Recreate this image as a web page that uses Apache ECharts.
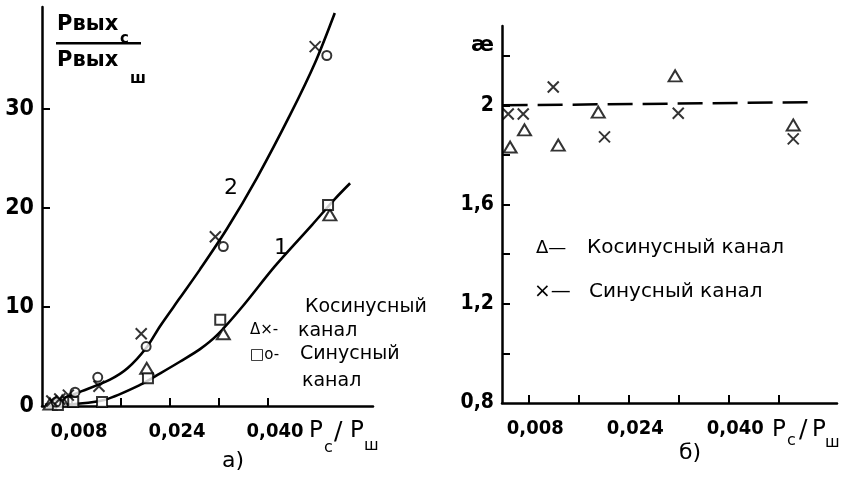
<!DOCTYPE html>
<html><head><meta charset="utf-8">
<script src="https://cdn.jsdelivr.net/npm/echarts@6/dist/echarts.min.js"></script>
<style>html,body{margin:0;background:#fff}#c{width:844px;height:480px}</style>
</head><body><div id="c"></div>
<script>
// ---------- panel a) ----------
const curve1 = [[0.0036,0],[0.0085,0.2],[0.0134,0.64],[0.0191,2.13],[0.0224,3.3],[0.0256,4.47],[0.0289,5.74],[0.0318,7.23],[0.0359,10.1],[0.0411,14.1],[0.0472,18.3],[0.0509,20.9],[0.0534,22.5]];
const curve2 = [[0.0036,0.1],[0.0096,1.5],[0.0142,2.66],[0.0171,3.83],[0.0201,5.85],[0.0224,8.09],[0.0256,10.9],[0.0289,13.8],[0.0333,17.9],[0.0382,23.05],[0.0436,29.4],[0.0477,34.7],[0.0509,39.7]];
const aTriangles = [[0.0044,0.2],[0.0064,0.5],[0.0202,3.8],[0.0327,7.3],[0.0501,19.3]];
const aCrosses   = [[0.0047,0.5],[0.0060,0.7],[0.0074,1.1],[0.0124,2.0],[0.0193,7.3],[0.0314,17.1],[0.0477,36.3]];
const aSquares   = [[0.0057,0.1],[0.0082,0.4],[0.0129,0.4],[0.0204,2.8],[0.0322,8.7],[0.0498,20.3]];
const aCircles   = [[0.0054,0.4],[0.0085,1.4],[0.0122,2.9],[0.0201,6.0],[0.0327,16.1],[0.0496,35.4]];
const aXTicks  = [0.008,0.016,0.024,0.032,0.040];
const aXLabels = [0.008,0.024,0.040];
const aYTicks  = [10,20,30];
const aYLabels = [0,10,20,30];
// ---------- panel б) ----------
const bTriangles = [[0.0051,1.832],[0.0074,1.901],[0.0128,1.840],[0.0192,1.973],[0.0315,2.119],[0.0504,1.921]];
const bCrosses   = [[0.0048,1.965],[0.0072,1.965],[0.0120,2.074],[0.0202,1.873],[0.0320,1.968],[0.0504,1.865]];
const bRefLine   = [[0.0039,2.0],[0.0528,2.013]];
const bXTicks  = [0.008,0.016,0.024,0.032,0.040,0.048];
const bXLabels = [0.008,0.024,0.040];
const bYTicks  = [1.0,1.2,1.4,1.6,1.8,2.0,2.2];
const bYLabels = [0.8,1.2,1.6,2.0];

const F = 'DejaVu Sans';
const FC = 'DejaVu Sans Condensed';
const fmtX = v => v.toFixed(3).replace('.', ',');
const fmtY = v => String(+v.toFixed(2)).replace('.', ',');
const crossPath = 'path://M0,0L10,10M10,0L0,10';

function xAxis(idx, min, max, ticks, labels){
  return {type:'value', gridIndex:idx, min, max,
    axisLine:{show:true, onZero:false, lineStyle:{color:'#000', width:2.5}},
    axisTick:{show:true, inside:true, length:8, lineStyle:{color:'#000', width:2}, customValues:ticks},
    axisLabel:{show:true, customValues:labels, formatter:fmtX, color:'#000', fontFamily:FC, fontWeight:'bold', fontSize:20, margin:16, padding:[0,0,0,14]},
    splitLine:{show:false}};
}
function yAxis(idx, min, max, ticks, labels, size){
  return {type:'value', gridIndex:idx, min, max,
    axisLine:{show:true, onZero:false, lineStyle:{color:'#000', width:2.5}},
    axisTick:{show:true, inside:true, length:8, lineStyle:{color:'#000', width:2}, customValues:ticks},
    axisLabel:{show:true, customValues:labels, formatter:fmtY, color:'#000', fontFamily:FC, fontWeight:'bold', fontSize:size, margin:8},
    splitLine:{show:false}};
}
function sc(data, xi, sym, size){
  return {type:'scatter', xAxisIndex:xi, yAxisIndex:xi, data, symbol:sym, symbolSize:size, z:5,
    itemStyle:{color:'#fff', borderColor:'#000', borderWidth:2}, silent:true};
}
function ln(data, xi, extra){
  return Object.assign({type:'line', xAxisIndex:xi, yAxisIndex:xi, data, showSymbol:false, symbol:'none', z:3,
    lineStyle:{color:'#000', width:2.6}, silent:true}, extra||{});
}
function t(x, y, text, size, opts){
  return {type:'text', x, y, silent:true, style:Object.assign({text, fill:'#000', font:`${size}px "${F}"`, textVerticalAlign:'middle'}, opts||{})};
}

const chart = echarts.init(document.getElementById('c'), null, {renderer:'canvas'});
chart.setOption({
  animation:false,
  backgroundColor:'#fff',
  grid:[{left:42, top:7, width:331, height:399}, {left:502, top:26, width:335, height:377}],
  xAxis:[xAxis(0,0.0031,0.05714,aXTicks,aXLabels), xAxis(1,0.0038,0.0574,bXTicks,bXLabels)],
  yAxis:[yAxis(0,0,40.3,aYTicks,aYLabels,23), yAxis(1,0.8,2.32,bYTicks,bYLabels,21)],
  series:[
    ln(curve1,0,{smooth:0.3}), ln(curve2,0,{smooth:0.3}),
    sc(aTriangles,0,'triangle',[13,11]), sc(aSquares,0,'rect',[10,10]),
    sc(aCircles,0,'circle',9), sc(aCrosses,0,crossPath,11),
    ln(bRefLine,1,{lineStyle:{color:'#000', width:2.5, type:[25,10]}}),
    sc(bTriangles,1,'triangle',[13,11]), sc(bCrosses,1,crossPath,11)
  ],
  graphic:[
    t(57,25,'Pвых',21,{font:`bold 21px "${F}"`}),
    t(120,39,'с',15,{font:`bold 15px "${F}"`}),
    {type:'rect', shape:{x:56,y:42,width:85,height:2.5}, style:{fill:'#000'}, silent:true},
    t(57,61,'Pвых',21,{font:`bold 21px "${F}"`}),
    t(130,79,'ш',15,{font:`bold 15px "${F}"`}),
    t(309,431,'P',23), t(324,448,'c',16), t(334,432,'/',25), t(350,431,'P',23), t(364,446,'ш',16),
    t(772,430,'P',23), t(787,441,'c',16), t(799,430,'/',25), t(812,430,'P',23), t(825,443,'ш',16),
    t(224,188,'2',22), t(274,248,'1',22),
    t(305,307,'Косинусный',19), t(250,330,'Δ×-',15), t(298,331,'канал',19),
    t(250,355,'□o-',15), t(300,354,'Синусный',19), t(302,381,'канал',19),
    t(536,248,'Δ—',18), t(587,248,'Косинусный канал',20),
    t(534,292,'×—',20), t(589,292,'Синусный канал',20),
    t(471,45,'æ',22,{font:`bold 22px "${F}"`}),
    t(222,461,'a)',22), t(679,453,'б)',22)
  ]
});
</script></body></html>
